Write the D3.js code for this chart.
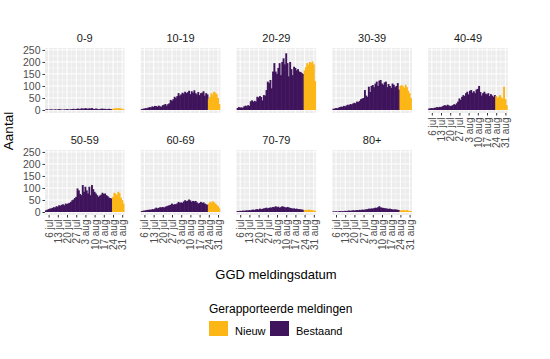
<!DOCTYPE html>
<html>
<head>
<meta charset="utf-8">
<script src="https://cdn.jsdelivr.net/npm/d3@7"></script>
<style>
  body { margin: 0; background: #fff; }
  svg { display: block; font-family: "Liberation Sans", Arial, sans-serif; }
</style>
</head>
<body>
<svg id="chart" width="550" height="359"></svg>
<script>
// ---------------- DATA ----------------
const ageGroups = ["0-9", "10-19", "20-29", "30-39", "40-49", "50-59", "60-69", "70-79", "80+"];
const firstDay = "2020-07-04";           // first reported day (Bestaand), 60 days in total
const seriesKeys = ["Bestaand", "Nieuw"];
const seriesLabels = ["Nieuw", "Bestaand"]; // legend order
const tickLabels = ["6 jul", "13 jul", "20 jul", "27 jul", "3 aug", "10 aug", "17 aug", "24 aug", "31 aug"];
const yTicks = [0, 50, 100, 150, 200, 250];

// Bestaand: 4 jul - 23 aug (51 days); Nieuw: 24 aug - 1 sep (9 days)
const bestaand_0_9 = [2,3,1,2,3,2,1,3,2,2,4,3,2,1,3,2,4,3,2,3,4,5,3,4,6,5,4,7,6,5,8,6,5,7,6,8,5,4,6,5,3,4,5,6,4,5,3,4,5,4,3];
const nieuw_0_9 = [5,6,7,6,8,7,6,5,3];

const bestaand_10_19 = [4,5,6,8,7,10,12,11,15,13,17,16,14,18,15,14,20,22,25,18,24,28,42,38,45,55,50,58,70,60,65,72,68,76,70,74,80,66,78,72,82,70,65,75,62,70,72,78,60,70,65];
const nieuw_10_19 = [45,55,70,62,76,72,66,50,25];

const bestaand_20_29 = [8,12,10,11,9,15,18,16,20,17,36,40,34,38,35,55,52,58,54,40,62,60,83,118,112,125,90,160,195,160,150,175,195,145,200,215,190,236,195,140,200,170,145,180,175,165,170,160,158,153,150];
const nieuw_20_29 = [165,178,195,188,200,196,202,190,120];

const bestaand_30_39 = [5,6,8,7,10,12,14,13,17,15,19,22,20,25,23,27,30,28,35,33,38,45,48,50,83,60,55,97,75,100,104,95,110,118,100,122,125,110,105,115,118,95,108,100,92,110,105,95,100,112,85];
const nieuw_30_39 = [100,104,98,92,105,95,80,70,50];

const bestaand_40_49 = [6,7,8,7,9,10,12,11,13,12,15,18,20,17,22,19,16,18,20,24,22,28,35,48,42,55,62,58,70,76,65,80,83,72,78,70,85,88,100,75,60,70,76,68,65,70,58,66,60,55,62];
const nieuw_40_49 = [58,50,55,62,52,48,97,45,20];

const bestaand_50_59 = [7,9,12,14,15,17,20,19,24,22,28,26,30,32,28,35,33,36,38,42,49,52,58,63,98,90,75,70,112,84,105,90,77,105,70,112,95,84,77,70,63,68,72,80,75,77,70,66,60,58,56];
const nieuw_50_59 = [63,80,75,70,84,78,60,50,35];

const bestaand_60_69 = [4,5,6,7,8,9,10,9,12,11,14,18,15,17,20,19,21,18,22,24,26,28,30,35,30,33,32,36,42,38,40,38,44,49,45,47,52,48,42,46,44,46,40,35,38,42,38,40,35,32,30];
const nieuw_60_69 = [35,42,38,45,40,35,30,25,15];

const bestaand_70_79 = [4,3,5,4,6,5,6,7,6,8,7,9,10,8,11,12,10,14,12,13,15,16,18,15,17,19,18,21,20,24,20,22,18,20,24,22,20,18,21,19,17,16,14,15,13,14,12,12,11,10,9];
const nieuw_70_79 = [7,9,8,10,9,8,7,6,5];

const bestaand_80p = [3,2,3,2,3,4,3,4,3,5,4,5,6,5,6,7,6,7,8,7,9,8,10,9,10,11,12,14,13,15,14,16,18,17,20,24,19,18,17,16,15,14,13,14,12,11,10,11,10,9,8];
const nieuw_80p = [7,6,8,7,6,8,5,5,4];

const bestaandByGroup = [bestaand_0_9, bestaand_10_19, bestaand_20_29, bestaand_30_39, bestaand_40_49, bestaand_50_59, bestaand_60_69, bestaand_70_79, bestaand_80p];
const nieuwByGroup = [nieuw_0_9, nieuw_10_19, nieuw_20_29, nieuw_30_39, nieuw_40_49, nieuw_50_59, nieuw_60_69, nieuw_70_79, nieuw_80p];

// ---------------- LAYOUT ----------------
const colors = { "Bestaand": "#3f145c", "Nieuw": "#fcb616" };
const panelW = 79.5, panelH = 65;
const panelX0 = 45, panelStepX = 95.8;
const panelY = [48, 150];
const nCols = 5;

const parse = d3.timeParse("%Y-%m-%d");
const start = parse(firstDay);
const nDays = bestaand_0_9.length + nieuw_0_9.length;
const dates = d3.range(nDays).map(i => d3.timeDay.offset(start, i));
const tickDates = tickLabels.map((t, i) => d3.timeDay.offset(parse("2020-07-06"), 7 * i));

const x = d3.scaleTime()
  .domain([d3.timeHour.offset(start, -18), d3.timeHour.offset(dates[nDays - 1], 18)])
  .range([0, panelW]);
const y = d3.scaleLinear().domain([-12.5, 258]).range([panelH, 0]);
const dayW = x(dates[1]) - x(dates[0]);

const minorX = tickDates.slice(0, -1).map(d => d3.timeHour.offset(d, 84))
  .concat([d3.timeHour.offset(tickDates[0], -84)]);
const minorY = [25, 75, 125, 175, 225];

const svg = d3.select("#chart");

ageGroups.forEach((grp, gi) => {
  const col = gi % nCols, row = Math.floor(gi / nCols);
  const px = panelX0 + col * panelStepX, py = panelY[row];
  const g = svg.append("g").attr("transform", `translate(${px},${py})`);

  // background
  g.append("rect").attr("width", panelW).attr("height", panelH).attr("fill", "#ececec");

  // grid
  g.selectAll(".mny").data(minorY).join("line")
    .attr("x1", 0).attr("x2", panelW).attr("y1", d => y(d)).attr("y2", d => y(d))
    .attr("stroke", "#fff").attr("stroke-width", 0.5);
  g.selectAll(".mnx").data(minorX.filter(d => x(d) > 0 && x(d) < panelW)).join("line")
    .attr("y1", 0).attr("y2", panelH).attr("x1", d => x(d)).attr("x2", d => x(d))
    .attr("stroke", "#fff").attr("stroke-width", 0.5);
  g.selectAll(".mjy").data(yTicks).join("line")
    .attr("x1", 0).attr("x2", panelW).attr("y1", d => y(d)).attr("y2", d => y(d))
    .attr("stroke", "#fff").attr("stroke-width", 1);
  g.selectAll(".mjx").data(tickDates).join("line")
    .attr("y1", 0).attr("y2", panelH).attr("x1", d => x(d)).attr("x2", d => x(d))
    .attr("stroke", "#fff").attr("stroke-width", 1);

  // data
  const b = bestaandByGroup[gi], n = nieuwByGroup[gi];
  const rows = dates.map((d, i) => ({
    date: d,
    Bestaand: i < b.length ? b[i] : 0,
    Nieuw: i >= b.length ? n[i - b.length] : 0
  }));
  const stacked = d3.stack().keys(seriesKeys)(rows);
  stacked.forEach(layer => {
    g.append("g").attr("fill", colors[layer.key])
      .selectAll("rect").data(layer.filter(d => d[1] - d[0] > 0)).join("rect")
      .attr("x", d => x(d.data.date) - dayW / 2 - 0.3)
      .attr("width", dayW + 0.6)
      .attr("y", d => y(d[1]))
      .attr("height", d => y(d[0]) - y(d[1]));
  });

  // strip title
  svg.append("text").attr("x", px + panelW / 2).attr("y", py - 6)
    .attr("text-anchor", "middle").attr("font-size", 11).attr("fill", "#1a1a1a")
    .text(grp);

  // y axis on first column
  if (col === 0) {
    const ya = svg.append("g").attr("transform", `translate(${px},${py})`)
      .call(d3.axisLeft(y).tickValues(yTicks).tickSize(2.5).tickPadding(2));
    ya.select(".domain").remove();
    ya.selectAll("line").attr("stroke", "#333");
    ya.selectAll("text").attr("font-size", 10.5).attr("fill", "#4d4d4d")
      .attr("font-family", "Liberation Sans, Arial, sans-serif");
  }

  // x axis where no panel below
  const hasBelow = gi + nCols < ageGroups.length;
  if (!hasBelow) {
    const xa = svg.append("g").attr("transform", `translate(${px},${py + panelH})`)
      .call(d3.axisBottom(x).tickValues(tickDates).tickFormat((d, i) => tickLabels[i]).tickSize(2.5));
    xa.select(".domain").remove();
    xa.selectAll("line").attr("stroke", "#333");
    xa.selectAll("text")
      .attr("font-size", 10).attr("fill", "#4d4d4d")
      .attr("font-family", "Liberation Sans, Arial, sans-serif")
      .attr("text-anchor", "end")
      .attr("transform", "rotate(-90)")
      .attr("x", -4.5).attr("y", 0).attr("dy", "0.35em");
  }
});

// axis titles
svg.append("text").attr("transform", "translate(13,131) rotate(-90)")
  .attr("text-anchor", "middle").attr("font-size", 13.5).attr("fill", "#000").text("Aantal");
svg.append("text").attr("x", 276).attr("y", 279)
  .attr("text-anchor", "middle").attr("font-size", 13).attr("fill", "#000").text("GGD meldingsdatum");

// legend
const lg = svg.append("g");
lg.append("text").attr("x", 209).attr("y", 313).attr("font-size", 12).attr("fill", "#000")
  .text("Gerapporteerde meldingen");
const legendX = [209, 270];
seriesLabels.forEach((k, i) => {
  lg.append("rect").attr("x", legendX[i]).attr("y", 321).attr("width", 19).attr("height", 15)
    .attr("fill", colors[k]);
  lg.append("text").attr("x", legendX[i] + 26).attr("y", 334.5).attr("font-size", 11)
    .attr("fill", "#000").text(k);
});
</script>
</body>
</html>
